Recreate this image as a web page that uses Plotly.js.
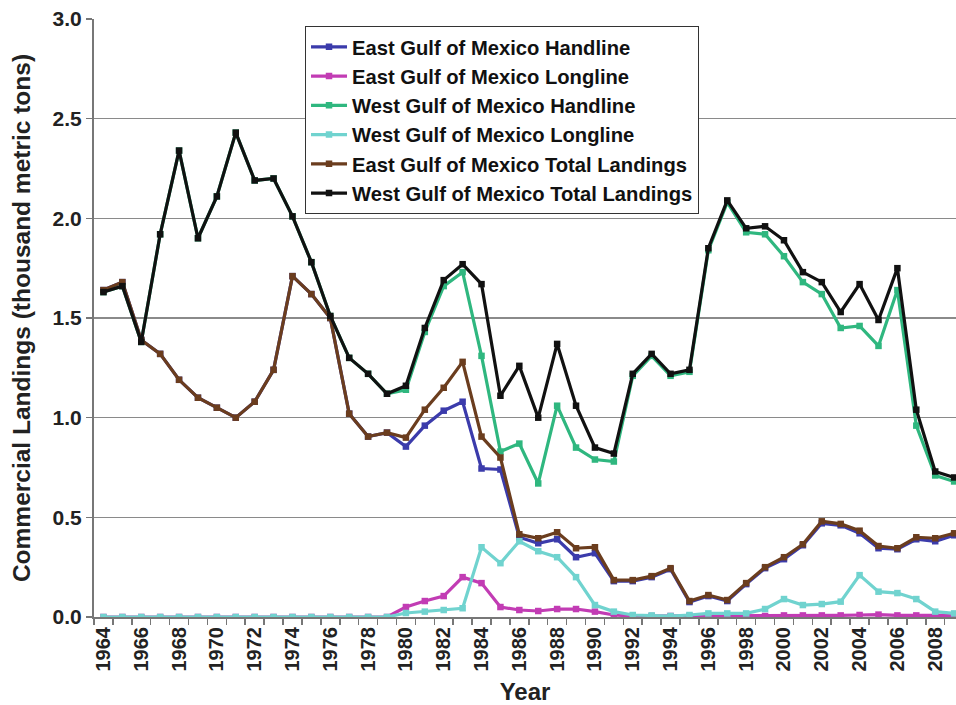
<!DOCTYPE html>
<html>
<head>
<meta charset="utf-8">
<script src="https://cdn.plot.ly/plotly-3.0.1.min.js"></script>
<style>html,body{margin:0;padding:0;background:#fff;}#chart{width:956px;height:705px;}</style>
</head>
<body>
<div id="chart"></div>
<script>
var years = [1964,1965,1966,1967,1968,1969,1970,1971,1972,1973,1974,1975,1976,1977,1978,1979,1980,1981,1982,1983,1984,1985,1986,1987,1988,1989,1990,1991,1992,1993,1994,1995,1996,1997,1998,1999,2000,2001,2002,2003,2004,2005,2006,2007,2008,2009];
var yearLabels = [1964,1966,1968,1970,1972,1974,1976,1978,1980,1982,1984,1986,1988,1990,1992,1994,1996,1998,2000,2002,2004,2006,2008];

var eastHandline = [1.64,1.68,1.39,1.32,1.19,1.10,1.05,1.00,1.08,1.24,1.71,1.62,1.50,1.02,0.905,0.925,0.855,0.96,1.035,1.08,0.745,0.74,0.40,0.37,0.39,0.30,0.32,0.18,0.18,0.20,0.24,0.075,0.105,0.08,0.165,0.245,0.29,0.36,0.47,0.46,0.42,0.345,0.34,0.39,0.38,0.41];
var eastLongline = [0,0,0,0,0,0,0,0,0,0,0,0,0,0,0,0,0.05,0.08,0.105,0.20,0.17,0.05,0.035,0.03,0.04,0.04,0.027,0.01,0.005,0.005,0.005,0.005,0.005,0.005,0.005,0.005,0.008,0.008,0.008,0.008,0.01,0.012,0.008,0.008,0.01,0.008];
var westHandline = [1.63,1.66,1.38,1.92,2.34,1.90,2.11,2.43,2.19,2.20,2.01,1.78,1.51,1.30,1.22,1.12,1.14,1.43,1.66,1.73,1.31,0.83,0.87,0.67,1.06,0.85,0.79,0.78,1.21,1.31,1.21,1.23,1.84,2.08,1.93,1.92,1.81,1.68,1.62,1.45,1.46,1.36,1.64,0.96,0.71,0.68];
var westLongline = [0,0,0,0,0,0,0,0,0,0,0,0,0,0,0,0,0.02,0.027,0.035,0.044,0.35,0.27,0.38,0.33,0.30,0.20,0.06,0.027,0.01,0.008,0.005,0.01,0.018,0.018,0.018,0.04,0.09,0.06,0.065,0.077,0.21,0.127,0.12,0.09,0.027,0.018];
var eastTotal = [1.64,1.68,1.39,1.32,1.19,1.10,1.05,1.00,1.08,1.24,1.71,1.62,1.50,1.02,0.905,0.925,0.90,1.04,1.15,1.28,0.905,0.80,0.415,0.395,0.425,0.345,0.35,0.185,0.185,0.205,0.245,0.08,0.11,0.085,0.17,0.25,0.30,0.365,0.48,0.467,0.433,0.356,0.345,0.40,0.395,0.42];
var westTotal = [1.63,1.66,1.38,1.92,2.34,1.90,2.11,2.43,2.19,2.20,2.01,1.78,1.51,1.30,1.22,1.12,1.16,1.45,1.69,1.77,1.67,1.11,1.26,1.00,1.37,1.06,0.85,0.82,1.22,1.32,1.22,1.24,1.85,2.09,1.95,1.96,1.89,1.73,1.68,1.53,1.67,1.49,1.75,1.04,0.73,0.70];

var seriesNames = ["East Gulf of Mexico Handline","East Gulf of Mexico Longline","West Gulf of Mexico Handline","West Gulf of Mexico Longline","East Gulf of Mexico Total Landings","West Gulf of Mexico Total Landings"];
var seriesData = [eastHandline, eastLongline, westHandline, westLongline, eastTotal, westTotal];
var seriesColors = ["#3b3bab","#c23cb4","#2fb77f","#70d3cf","#6b3d1e","#111111"];

var FONT = "Liberation Sans, Arial, Helvetica, sans-serif";

var traces = seriesData.map(function(d, i){
  return {
    x: years, y: d, name: seriesNames[i], type: "scatter", mode: "lines+markers",
    legendgroup: "g" + i,
    line: {color: seriesColors[i], width: 3.2},
    marker: {color: seriesColors[i], symbol: "square", size: 6.5}
  };
});

var minorTicks = [];
for (var k = 0; k <= years.length; k++) { minorTicks.push(years[0] - 0.5 + k); }

var layout = {
  width: 956, height: 705,
  margin: {l: 94, r: 0, t: 19, b: 88},
  paper_bgcolor: "#ffffff", plot_bgcolor: "#ffffff",
  showlegend: true,
  legend: {
    x: 0.2448, y: 0.988, xanchor: "left", yanchor: "top",
    bgcolor: "#ffffff", bordercolor: "#333333", borderwidth: 1,
    font: {family: FONT, size: 20.2, color: "#111", weight: "bold"},
    tracegroupgap: 0, itemwidth: 36
  },
  xaxis: {
    range: [1963.5, 2009.1],
    tickmode: "array", tickvals: yearLabels, ticktext: yearLabels.map(String),
    tickangle: -90, ticks: "",
    tickfont: {family: FONT, size: 20, color: "#222", weight: "bold"},
    showgrid: false, zeroline: false,
    showline: true, linecolor: "#777", linewidth: 2,
    minor: {tickmode: "array", tickvals: minorTicks, ticks: "outside", ticklen: 6, tickcolor: "#777", tickwidth: 1.5, showgrid: false},
    title: {text: "Year", font: {family: FONT, size: 24, color: "#222", weight: "bold"}, standoff: 15}
  },
  yaxis: {
    range: [0, 3], dtick: 0.5, tick0: 0, tickformat: ".1f",
    ticks: "outside", ticklen: 6, tickcolor: "#777", tickwidth: 1.5,
    tickfont: {family: FONT, size: 21, color: "#222", weight: "bold"},
    showgrid: true, gridcolor: "#8a8a8a", gridwidth: 1.5,
    zeroline: false, showline: true, linecolor: "#777", linewidth: 2,
    title: {text: "Commercial Landings (thousand metric tons)", font: {family: FONT, size: 24.5, color: "#222", weight: "bold"}, standoff: 15}
  }
};

Plotly.newPlot("chart", traces, layout, {displayModeBar: false, staticPlot: true});
</script>
</body>
</html>
